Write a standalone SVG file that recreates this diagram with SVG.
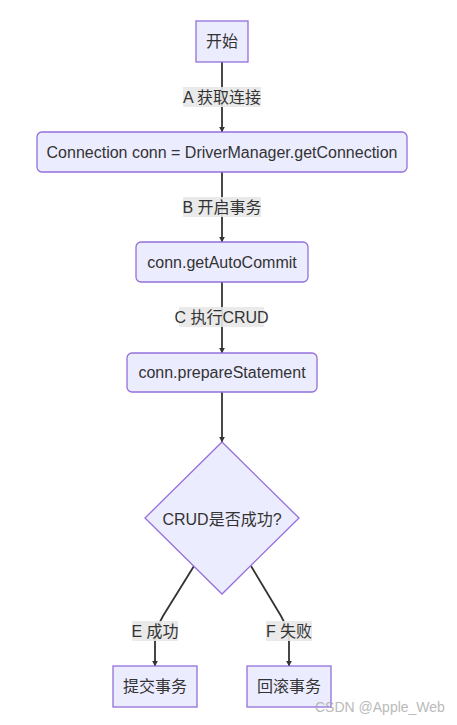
<svg xmlns="http://www.w3.org/2000/svg" width="457" height="725" viewBox="0 0 457 725">
<defs>
<style>
.node{fill:#ECECFF;stroke:#9370DB;stroke-width:1.3}
.t{font-family:"Liberation Sans","Noto Sans CJK SC",sans-serif;font-size:16px;fill:#333;text-anchor:middle;dominant-baseline:central}
.edge{fill:none;stroke:#333;stroke-width:1.8}
.lbg{fill:#e8e8e8;fill-opacity:0.9}
.wm{font-family:"Liberation Sans",sans-serif;font-size:14px;fill:#aaa;opacity:0.8}
</style>
<marker id="arr" viewBox="0 0 10 10" refX="9" refY="5" markerWidth="6" markerHeight="6" orient="auto" markerUnits="userSpaceOnUse">
<path d="M0,0 L10,5 L0,10 z" fill="#333"/>
</marker>
</defs>
<rect width="457" height="725" fill="#fff"/>
<g id="edges">
<path class="edge" d="M222,62 L222,132" marker-end="url(#arr)"/>
<path class="edge" d="M222,172 L222,242" marker-end="url(#arr)"/>
<path class="edge" d="M222,282 L222,353" marker-end="url(#arr)"/>
<path class="edge" d="M222,392 L222,442" marker-end="url(#arr)"/>
<path class="edge" d="M194,566 L163,616 Q155,630 155,642 L155,666" marker-end="url(#arr)"/>
<path class="edge" d="M251,566 L281,616 Q289,630 289,642 L289,666" marker-end="url(#arr)"/>
<g id="labelA"><rect class="lbg" x="183" y="87" width="78" height="20"/><text class="t" x="222" y="97">A 获取连接</text></g>
<g id="labelB"><rect class="lbg" x="183" y="197" width="78" height="20"/><text class="t" x="222" y="207">B 开启事务</text></g>
<g id="labelC"><rect class="lbg" x="179" y="307" width="85" height="20"/><text class="t" x="221.5" y="317">C 执行CRUD</text></g>
<g id="labelE"><rect class="lbg" x="132" y="621" width="46" height="20"/><text class="t" x="155" y="631">E 成功</text></g>
<g id="labelF"><rect class="lbg" x="266" y="621" width="46" height="20"/><text class="t" x="289" y="631">F 失败</text></g>
</g>
<g id="start"><rect class="node" x="196" y="21" width="52" height="41"/><text class="t" x="222" y="41.5">开始</text></g>
<g id="getConn"><rect class="node" x="37" y="132" width="370" height="40" rx="5"/><text class="t" x="222" y="152">Connection conn = DriverManager.getConnection</text></g>
<g id="autoCommit"><rect class="node" x="136" y="242" width="172" height="40" rx="5"/><text class="t" x="222" y="262">conn.getAutoCommit</text></g>
<g id="prepare"><rect class="node" x="127" y="353" width="190" height="39" rx="5"/><text class="t" x="222" y="372.5">conn.prepareStatement</text></g>
<g id="decision"><polygon class="node" points="222,442 299,518 222,594 145,518" stroke-width="1"/><text class="t" x="222" y="519">CRUD是否成功?</text></g>
<g id="commit"><rect class="node" x="113" y="666" width="84" height="41"/><text class="t" x="155" y="686.5">提交事务</text></g>
<g id="rollback"><rect class="node" x="247" y="666" width="84" height="41"/><text class="t" x="289" y="686.5">回滚事务</text></g>
<text class="wm" x="315" y="712">CSDN @Apple_Web</text>
</svg>
